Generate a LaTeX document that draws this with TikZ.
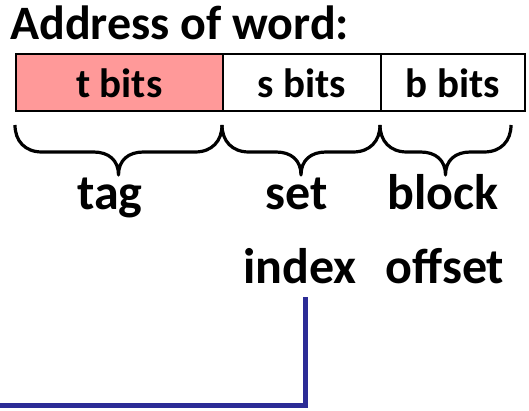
\documentclass[tikz,border=0pt]{standalone}
\usepackage{fontspec}
\setmainfont{Carlito}
\definecolor{tagred}{RGB}{255,153,153}
\definecolor{navy}{RGB}{44,44,150}
\newcommand{\cbrace}[2]{%
  \draw[brc] (#1,125) .. controls (#1,141) and ({#1+10},152) .. ({#1+27},152)
    -- ({(#1+#2)/2-25},152) .. controls ({(#1+#2)/2-10},152) and ({(#1+#2)/2},160) .. ({(#1+#2)/2},175)
    .. controls ({(#1+#2)/2},160) and ({(#1+#2)/2+10},152) .. ({(#1+#2)/2+25},152)
    -- ({#2-27},152) .. controls ({#2-10},152) and (#2,141) .. (#2,125);}
\begin{document}
\begin{tikzpicture}[x=1pt,y=-1pt,
  cell/.style={draw=black,line width=1.6pt,minimum height=57pt,inner sep=0pt,text height=31pt,text depth=0pt,anchor=north west,font=\fontsize{41}{46}\selectfont\bfseries},
  brc/.style={draw=black,line width=3.2pt,line join=round},
  lbl/.style={font=\fontsize{50}{73}\selectfont\bfseries,inner sep=0pt},
  conn/.style={draw=navy,line width=5pt}]
\useasboundingbox (0,0) rectangle (529,411);
\node[anchor=base west,inner sep=0pt,font=\fontsize{48}{56}\selectfont\bfseries] (title) at (10,40) {Address of word:};
\node[cell,fill=tagred,minimum width=207pt] (t) at (15,53) {t bits};
\node[cell,minimum width=158pt] (s) at (222,53) {s bits};
\node[cell,minimum width=144pt] (b) at (380,53) {b bits};
\cbrace{15}{222}
\cbrace{222}{380}
\cbrace{380}{511}
\node[lbl,anchor=base] (tag) at (110,210) {tag};
\node[lbl,anchor=base] (set) at (297,210) {set};
\node[lbl,anchor=base] (index) at (300,283) {index};
\node[lbl,anchor=base] (blk) at (443,210) {block};
\node[lbl,anchor=base] (off) at (445,283) {offset};
\coordinate (ct) at (305,297);
\coordinate (cc) at (305,405.5);
\coordinate (cl) at (0,405.5);
\draw[conn] (ct) -- (cc) -- (cl);
\end{tikzpicture}
\end{document}
